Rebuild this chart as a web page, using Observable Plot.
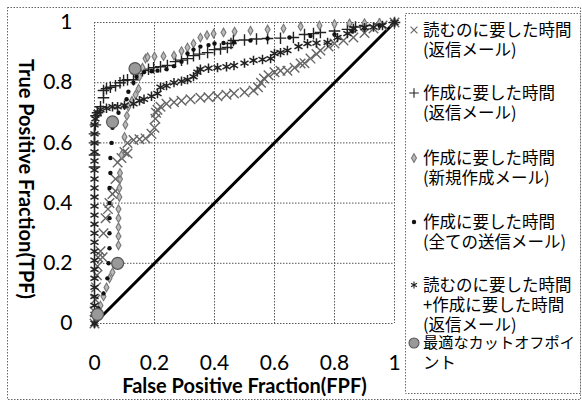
<!DOCTYPE html>
<html><head><meta charset="utf-8">
<script src="https://cdn.jsdelivr.net/npm/d3@7"></script>
<script src="https://cdn.jsdelivr.net/npm/@observablehq/plot@0.6"></script>
<style>body{margin:0;background:#fff}</style>
</head><body><div id="chart"></div>
<script>
const xTicks = [0, 0.2, 0.4, 0.6, 0.8, 1];
const yTicks = [0, 0.2, 0.4, 0.6, 0.8, 1];
const xTitle = "False Positive Fraction(FPF)";
const yTitle = "True Positive Fraction(TPF)";
const seriesNames = [
  ["読むのに要した時間", "(返信メール)"],
  ["作成に要した時間", "(返信メール)"],
  ["作成に要した時間", "(新規作成メール)"],
  ["作成に要した時間", "(全ての送信メール)"],
  ["読むのに要した時間", "+作成に要した時間", "(返信メール)"],
  ["最適なカットオフポイ", "ント"]
];
// [FPF, TPF]
const readReply = [[0,0],[0,0.04],[0.003,0.08],[0.005,0.12],[0.008,0.16],[0.01,0.19],[0.012,0.22],[0.02,0.24],[0.027,0.22],[0.03,0.3],[0.037,0.35],[0.045,0.38],[0.05,0.4],[0.06,0.43],[0.07,0.44],[0.07,0.48],[0.077,0.535],[0.09,0.55],[0.1,0.57],[0.11,0.565],[0.11,0.6],[0.13,0.61],[0.15,0.612],[0.17,0.615],[0.19,0.63],[0.2,0.65],[0.203,0.68],[0.205,0.7],[0.21,0.71],[0.22,0.72],[0.24,0.73],[0.265,0.735],[0.29,0.74],[0.32,0.745],[0.353,0.75],[0.38,0.752],[0.41,0.755],[0.44,0.76],[0.465,0.764],[0.5,0.768],[0.53,0.774],[0.545,0.785],[0.555,0.8],[0.565,0.814],[0.58,0.825],[0.6,0.835],[0.62,0.84],[0.643,0.84],[0.667,0.85],[0.687,0.864],[0.7,0.865],[0.72,0.88],[0.74,0.895],[0.753,0.907],[0.78,0.92],[0.8,0.93],[0.83,0.94],[0.863,0.95],[0.9,0.965],[0.93,0.98],[0.96,0.99],[1,1]];
const writeReply = [[0,0.52],[0,0.56],[0,0.6],[0,0.63],[0.003,0.66],[0.005,0.69],[0.01,0.7],[0.02,0.72],[0.03,0.75],[0.03,0.774],[0.04,0.78],[0.053,0.785],[0.07,0.79],[0.085,0.8],[0.097,0.807],[0.11,0.81],[0.13,0.81],[0.14,0.83],[0.16,0.84],[0.18,0.845],[0.197,0.85],[0.22,0.853],[0.243,0.857],[0.27,0.87],[0.29,0.875],[0.31,0.88],[0.33,0.89],[0.35,0.895],[0.377,0.9],[0.4,0.91],[0.42,0.912],[0.443,0.917],[0.455,0.93],[0.463,0.94],[0.5,0.942],[0.54,0.945],[0.577,0.947],[0.62,0.948],[0.663,0.95],[0.7,0.96],[0.73,0.963],[0.753,0.967],[0.8,0.972],[0.843,0.977],[0.87,0.985],[0.9,0.99],[0.95,0.995],[1,1]];
const writeNew = [[0,0],[0.005,0.02],[0.01,0.04],[0.02,0.06],[0.03,0.09],[0.04,0.12],[0.05,0.15],[0.06,0.17],[0.077,0.2],[0.08,0.26],[0.08,0.29],[0.08,0.32],[0.08,0.35],[0.08,0.38],[0.083,0.42],[0.083,0.45],[0.085,0.48],[0.085,0.5],[0.09,0.56],[0.1,0.62],[0.103,0.66],[0.108,0.69],[0.113,0.72],[0.125,0.74],[0.137,0.76],[0.147,0.78],[0.15,0.82],[0.16,0.85],[0.17,0.88],[0.177,0.885],[0.2,0.887],[0.23,0.888],[0.265,0.89],[0.29,0.905],[0.31,0.917],[0.33,0.93],[0.353,0.95],[0.375,0.958],[0.397,0.963],[0.43,0.967],[0.467,0.97],[0.52,0.973],[0.577,0.977],[0.63,0.98],[0.687,0.987],[0.75,0.99],[0.8,0.995],[0.85,0.997],[0.9,0.998],[0.95,0.999],[1,1]];
const writeAll = [[0,0],[0.013,0.05],[0.03,0.1],[0.043,0.15],[0.047,0.2],[0.05,0.25],[0.05,0.3],[0.05,0.35],[0.05,0.4],[0.05,0.45],[0.053,0.5],[0.053,0.55],[0.057,0.6],[0.06,0.65],[0.07,0.67],[0.08,0.7],[0.1,0.72],[0.107,0.745],[0.113,0.77],[0.13,0.8],[0.14,0.82],[0.165,0.835],[0.19,0.838],[0.21,0.84],[0.24,0.845],[0.265,0.855],[0.29,0.87],[0.31,0.897],[0.33,0.91],[0.353,0.92],[0.38,0.925],[0.4,0.93],[0.43,0.932],[0.465,0.934],[0.52,0.94],[0.577,0.947],[0.65,0.95],[0.72,0.955],[0.8,0.96],[0.86,0.97],[0.9,0.98],[0.95,0.99],[1,1]];
const readWrite = [[0,0],[0,0.03],[0,0.06],[0,0.09],[0,0.12],[0,0.15],[0,0.18],[0,0.21],[0,0.24],[0,0.27],[0,0.3],[0,0.33],[0,0.36],[0,0.39],[0,0.42],[0,0.45],[0,0.48],[0,0.51],[0,0.54],[0,0.57],[0,0.6],[0,0.63],[0,0.66],[0.003,0.68],[0.01,0.7],[0.02,0.71],[0.04,0.715],[0.06,0.72],[0.077,0.72],[0.1,0.725],[0.13,0.73],[0.15,0.74],[0.165,0.745],[0.19,0.755],[0.21,0.764],[0.22,0.785],[0.24,0.79],[0.265,0.8],[0.29,0.805],[0.31,0.81],[0.33,0.82],[0.343,0.835],[0.353,0.845],[0.38,0.848],[0.41,0.85],[0.44,0.853],[0.465,0.857],[0.5,0.865],[0.53,0.874],[0.56,0.877],[0.587,0.88],[0.6,0.897],[0.62,0.9],[0.643,0.907],[0.68,0.92],[0.71,0.93],[0.74,0.932],[0.777,0.934],[0.81,0.95],[0.843,0.963],[0.863,0.98],[0.9,0.983],[0.93,0.985],[0.96,0.99],[1,1]];
const cutoffs = [[0.135,0.847],[0.06,0.67],[0.077,0.2],[0.01,0.03]];
const diagonal = [[0,0],[1,1]];

const styles = [
  {data: readReply, symbol: "times", stroke: "#666", fill: "none", r: 4.4, sw: 1.4},
  {data: writeReply, symbol: "plus", stroke: "#222", fill: "none", r: 3.8, sw: 1.4},
  {data: writeNew, symbol: "diamond", stroke: "#777", fill: "#bbb", r: 2.6, sw: 1.1},
  {data: writeAll, symbol: "circle", stroke: "none", fill: "#111", r: 2.2, sw: 0},
  {data: readWrite, symbol: "asterisk", stroke: "#222", fill: "none", r: 4.4, sw: 1.5},
  {data: cutoffs, symbol: "circle", stroke: "#555", fill: "#999", r: 6, sw: 1.2}
];

const grid = {stroke: "#555", strokeOpacity: 1, strokeDasharray: "1.5,1.5", strokeWidth: 1};
const chart = Plot.plot({
  width: 582, height: 401,
  marginLeft: 94, marginRight: 188, marginTop: 22, marginBottom: 78,
  x: {domain: [0, 1]}, y: {domain: [0, 1]},
  style: {fontFamily: "Lato, sans-serif", background: "white", color: "#000"},
  marks: [
    Plot.gridX(xTicks, grid),
    Plot.gridY(yTicks, grid),
    Plot.axisX({ticks: xTicks, tickSize: 0, tickPadding: 32, fontSize: 21, label: null, tickFormat: d3.format("~g")}),
    Plot.axisY({ticks: yTicks, tickSize: 0, tickPadding: 22, fontSize: 21, label: null, tickFormat: d3.format("~g")}),
    Plot.line(diagonal, {x: d => d[0], y: d => d[1], stroke: "#000", strokeWidth: 3}),
    ...styles.map(s => Plot.dot(s.data, {x: d => d[0], y: d => d[1], symbol: () => s.symbol, r: s.r, stroke: s.stroke, fill: s.fill, strokeWidth: s.sw})),
    Plot.text([xTitle], {frameAnchor: "bottom", dy: 63, lineAnchor: "middle", textAnchor: "middle", text: d => d, fontSize: 20, fontWeight: "bold"}),
    Plot.text([yTitle], {frameAnchor: "left", dx: -69, dy: 6, lineAnchor: "middle", textAnchor: "middle", text: d => d, rotate: 90, fontSize: 20, fontWeight: "bold"})
  ]
});
document.getElementById("chart").append(chart);

const svg = d3.select(chart);
svg.append("rect").attr("x", 7.5).attr("y", 7.5).attr("width", 573).attr("height", 392)
  .attr("fill", "none").attr("stroke", "#666").attr("stroke-dasharray", "1.5,1.5");
const leg = svg.append("g").attr("text-anchor", "start");
leg.append("rect").attr("x", 405.5).attr("y", 13.5).attr("width", 175).attr("height", 380)
  .attr("fill", "white").attr("stroke", "#666").attr("stroke-dasharray", "1.5,1.5");
const entryY = [30, 93, 158, 222, 285, 343];
const symMap = {times: d3.symbolTimes, plus: d3.symbolPlus, diamond: d3.symbolDiamond, circle: d3.symbolCircle, asterisk: d3.symbolAsterisk};
styles.forEach((s, i) => {
  const r = i === 5 ? 5 : Math.min(s.r, 3.2);
  leg.append("path")
    .attr("transform", `translate(414,${entryY[i]})`)
    .attr("d", d3.symbol(symMap[s.symbol], Math.PI * r * r)())
    .attr("stroke", s.stroke).attr("fill", s.fill).attr("stroke-width", 1.1);
  seriesNames[i].forEach((line, j) => {
    leg.append("text")
      .attr("x", 423).attr("y", entryY[i] + j * 20)
      .attr("dy", "0.35em")
      .attr("text-anchor", "start")
      .attr("font-family", "'Noto Sans CJK JP', sans-serif")
      .attr("font-size", (i === 5 && j === 0) ? 15.2 : 16.5)
      .attr("fill", "#000")
      .text(line);
  });
});
</script></body></html>
